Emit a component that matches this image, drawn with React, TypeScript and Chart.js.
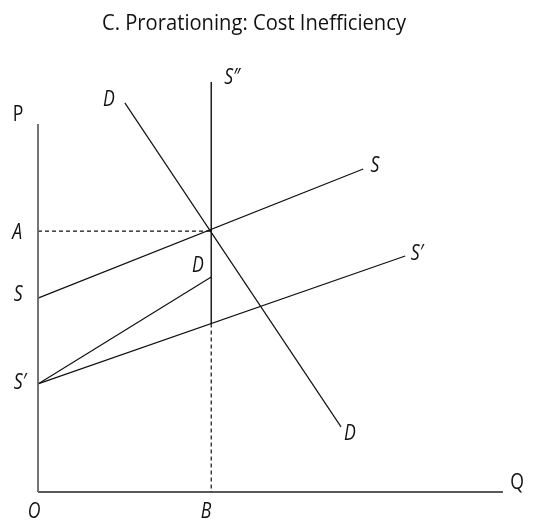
import React, { useEffect, useRef } from "react";
import { Chart, registerables } from "chart.js";

Chart.register(...registerables);

const TITLE = "C. Prorationing: Cost Inefficiency";

// Axes (Q horizontal, P vertical)
const pAxis = [{ x: 0, y: 0 }, { x: 0, y: 8.58 }];
const qAxis = [{ x: 0, y: 0 }, { x: 9.85, y: 0 }];
// Supply S
const supplyS = [{ x: 0, y: 4.52 }, { x: 6.89, y: 7.53 }];
// Supply S'
const supplySPrime = [{ x: 0, y: 2.52 }, { x: 7.78, y: 5.5 }];
// Demand D
const demandD = [{ x: 1.84, y: 9.07 }, { x: 6.42, y: 1.52 }];
// Prorationing limit S'' (solid part)
const quotaS2 = [{ x: 3.67, y: 9.56 }, { x: 3.67, y: 3.93 }];
// Dashed drop to B
const dropB = [{ x: 3.67, y: 3.93 }, { x: 3.67, y: 0 }];
// Dashed line to A
const lineA = [{ x: 0, y: 6.08 }, { x: 3.67, y: 6.08 }];
// Cost segment S' -> D
const costSeg = [{ x: 0, y: 2.52 }, { x: 3.67, y: 5.01 }];

// Text labels (anchor in data units)
const labels = [
  { t: "P", x: -0.42, y: 8.79, italic: false },
  { t: "Q", x: 10.15, y: 0.21, italic: false },
  { t: "O", x: -0.08, y: -0.47, italic: true },
  { t: "B", x: 3.56, y: -0.47, italic: true },
  { t: "A", x: -0.44, y: 6.04, italic: true },
  { t: "S", x: -0.42, y: 4.59, italic: true },
  { t: "S\u2032", x: -0.38, y: 2.54, italic: true },
  { t: "D", x: 1.5, y: 9.14, italic: true },
  { t: "S\u2033", x: 4.11, y: 9.65, italic: true },
  { t: "D", x: 3.39, y: 5.27, italic: true },
  { t: "S", x: 7.14, y: 7.6, italic: true },
  { t: "S\u2032", x: 8.03, y: 5.55, italic: true },
  { t: "D", x: 6.61, y: 1.35, italic: true },
];

const labelPlugin = {
  id: "labelPlugin",
  afterDraw(chart: any) {
    const ctx = chart.ctx;
    const xs = chart.scales.x;
    const ys = chart.scales.y;
    ctx.save();
    ctx.fillStyle = "#111";
    // title
    ctx.font = "500 21px 'Open Sans', sans-serif";
    ctx.textAlign = "center";
    ctx.textBaseline = "alphabetic";
    const w = ctx.measureText(TITLE).width;
    const sx = 304 / w;
    ctx.save();
    ctx.translate(254, 30);
    ctx.scale(sx, 1);
    ctx.fillText(TITLE, 0, 0);
    ctx.restore();
    // labels
    ctx.textBaseline = "middle";
    labels.forEach((l) => {
      ctx.font = `${l.italic ? "italic" : "normal"} 500 21px 'Open Sans', sans-serif`;
      ctx.save();
      ctx.translate(xs.getPixelForValue(l.x), ys.getPixelForValue(l.y));
      ctx.scale(0.84, 1);
      ctx.fillText(l.t, 0, 0);
      ctx.restore();
    });
    ctx.restore();
  },
};

export default function App() {
  const ref = useRef<HTMLCanvasElement | null>(null);
  useEffect(() => {
    document.body.style.margin = "0";
    const line = (data: any, color: string, width: number, dash: number[] = []) => ({
      data,
      borderColor: color,
      borderWidth: width,
      borderDash: dash,
      pointRadius: 0,
      showLine: true,
      fill: false,
      clip: false as any,
      tension: 0,
    });
    const chart = new Chart(ref.current as HTMLCanvasElement, {
      type: "scatter",
      data: {
        datasets: [
          line(pAxis, "#666", 1.8),
          line(qAxis, "#222", 1.6),
          line(supplyS, "#111", 1.2),
          line(supplySPrime, "#111", 1.2),
          line(demandD, "#111", 1.2),
          line(quotaS2, "#111", 1.4),
          line(dropB, "#111", 1.2, [4, 3]),
          line(lineA, "#111", 1.2, [4, 3]),
          line(costSeg, "#111", 1.2),
        ] as any,
      },
      options: {
        animation: false,
        responsive: false,
        maintainAspectRatio: false,
        layout: { padding: { top: 63, left: 38, right: 23, bottom: 31 } },
        plugins: {
          legend: { display: false },
          tooltip: { enabled: false },
          title: { display: false },
        },
        scales: {
          x: { type: "linear", display: false, min: 0, max: 10 },
          y: { type: "linear", display: false, min: 0, max: 10 },
        },
      },
      plugins: [labelPlugin],
    });
    return () => chart.destroy();
  }, []);
  return (
    <div style={{ position: "absolute", left: 0, top: 0, width: 533, height: 523 }}>
      <canvas ref={ref} width={533} height={523} style={{ width: 533, height: 523 }} />
    </div>
  );
}
